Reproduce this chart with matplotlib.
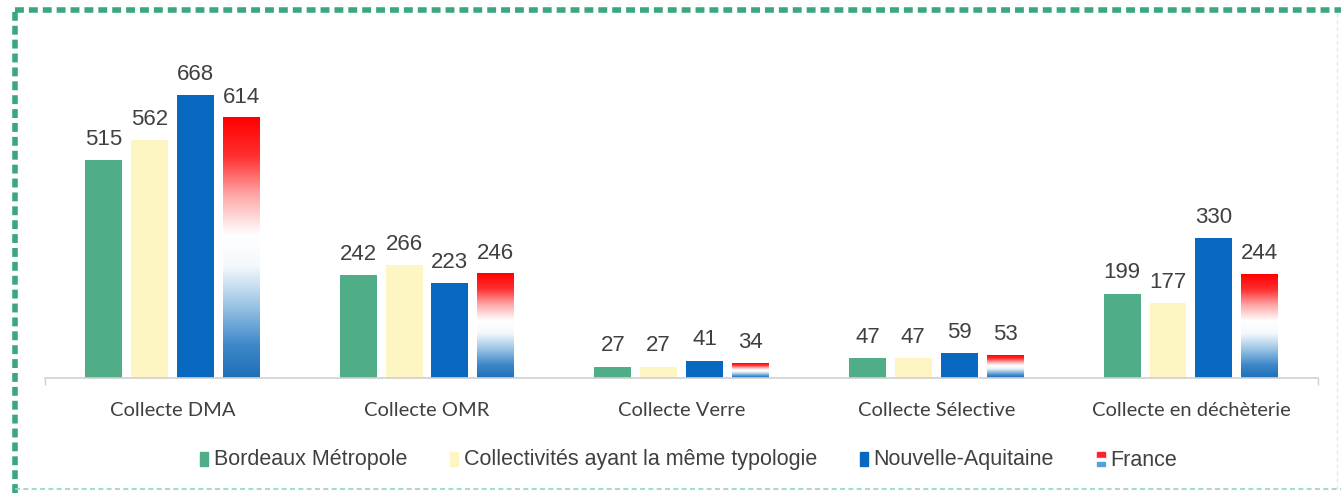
import numpy as np
import matplotlib
matplotlib.use('Agg')
import matplotlib.pyplot as plt
from matplotlib.colors import LinearSegmentedColormap
from matplotlib.patches import Rectangle
from matplotlib.lines import Line2D
from matplotlib.legend_handler import HandlerBase

categories = ['Collecte DMA', 'Collecte OMR', 'Collecte Verre', 'Collecte Sélective', 'Collecte en déchèterie']
series_names = ['Bordeaux Métropole', 'Collectivités ayant la même typologie', 'Nouvelle-Aquitaine', 'France']
bordeaux = [515, 242, 27, 47, 199]
collectivites = [562, 266, 27, 47, 177]
nouvelle_aquitaine = [668, 223, 41, 59, 330]
france = [614, 246, 34, 53, 244]

green = '#4fae88'
yellow = '#fdf6c3'
blue = '#0868bf'
# france bars: blue at bottom -> white -> red on top
flag = LinearSegmentedColormap.from_list('flag', [
    (0.0, '#1f70b8'), (0.12, '#3b86c8'), (0.3, '#a9cde9'), (0.43, '#f4f9fd'),
    (0.55, '#ffffff'), (0.7, '#ffa8a8'), (0.85, '#ff3030'), (1.0, '#ff0000')])

fig = plt.figure(figsize=(13.41, 4.93), dpi=100)
ax = fig.add_axes([0.0336, 0.2333, 0.9494, 0.6876])

x = np.arange(len(categories))
step = 0.18
width = 0.145
offsets = [-1.5 * step, -0.5 * step, 0.5 * step, 1.5 * step]
all_vals = [bordeaux, collectivites, nouvelle_aquitaine, france]
colors = [green, yellow, blue, None]

for k, vals in enumerate(all_vals):
    xs = x + offsets[k]
    if colors[k] is not None:
        ax.bar(xs, vals, width, color=colors[k], zorder=2)
    else:
        bars = ax.bar(xs, vals, width, color='none', zorder=2)
        grad = np.linspace(1, 0, 256).reshape(-1, 1)
        for b in bars:
            x0 = b.get_x()
            h = b.get_height()
            ax.imshow(grad, extent=[x0, x0 + width, 0, h], aspect='auto',
                      cmap=flag, vmin=0, vmax=1, zorder=2, interpolation='bicubic')
    for xi, v in zip(xs, vals):
        ax.text(xi, v + 24, str(v), ha='center', va='bottom', fontsize=16,
                family='Liberation Sans', color='#404040')

ax.set_xlim(-0.5, len(categories) - 0.5)
ax.set_ylim(0, 800)
ax.set_yticks([])
for s in ['top', 'right', 'left']:
    ax.spines[s].set_visible(False)
ax.spines['bottom'].set_color('#d0d0d0')
ax.spines['bottom'].set_linewidth(1.2)
ax.set_xticks(x)
ax.set_xticklabels(categories, family='Lato', fontsize=14.5, color='#404040')
ax.tick_params(axis='x', length=0, pad=17)
ax.set_xticks([-0.5, len(categories) - 0.5], minor=True)
ax.tick_params(axis='x', which='minor', length=5, color='#d0d0d0', width=1)


class FlagHandler(HandlerBase):
    def create_artists(self, legend, orig_handle, xd, yd, w, h, fontsize, trans):
        parts = [Rectangle((xd, yd + 0.58 * h), w, 0.42 * h, color='#ff2030'),
                 Rectangle((xd, yd + 0.3 * h), w, 0.28 * h, color='#ffffff'),
                 Rectangle((xd, yd), w, 0.3 * h, color='#5aa0d8')]
        for p in parts:
            p.set_transform(trans)
        return parts


class BarHandler(HandlerBase):
    def create_artists(self, legend, orig_handle, xd, yd, w, h, fontsize, trans):
        r = Rectangle((xd, yd), w, h, color=orig_handle.get_facecolor())
        r.set_transform(trans)
        return [r]


handles = [Rectangle((0, 0), 1, 1, color=green), Rectangle((0, 0), 1, 1, color=yellow),
           Rectangle((0, 0), 1, 1, color=blue), Rectangle((0, 0), 1, 1, color='red')]
hmap = {handles[0]: BarHandler(), handles[1]: BarHandler(),
        handles[2]: BarHandler(), handles[3]: FlagHandler()}
fig.legend(handles, series_names, handler_map=hmap, loc='center', ncol=4,
           bbox_to_anchor=(0.5135, 1 - 460 / 493), frameon=False,
           prop={'family': 'Liberation Sans', 'size': 15.5},
           handlelength=0.38, handleheight=0.62, handletextpad=0.25, columnspacing=2.0,
           labelcolor='#404040')

# dashed frame around the figure
fig.add_artist(Line2D([15 / 1341, 1.0], [1 - 10 / 493] * 2, transform=fig.transFigure,
                      color='#3aa87c', lw=4, dashes=(1.6, 0.9)))
fig.add_artist(Line2D([15 / 1341] * 2, [0, 1 - 10 / 493], transform=fig.transFigure,
                      color='#3aa87c', lw=4, dashes=(1.6, 0.9)))
fig.add_artist(Line2D([15 / 1341, 1.0], [4 / 493] * 2, transform=fig.transFigure,
                      color='#8fd6c8', lw=1.2, dashes=(3, 2)))
fig.add_artist(Line2D([1337 / 1341] * 2, [4 / 493, 1 - 10 / 493], transform=fig.transFigure,
                      color='#d8f0ea', lw=1, dashes=(3, 2)))

fig.savefig('out.png', dpi=100)
